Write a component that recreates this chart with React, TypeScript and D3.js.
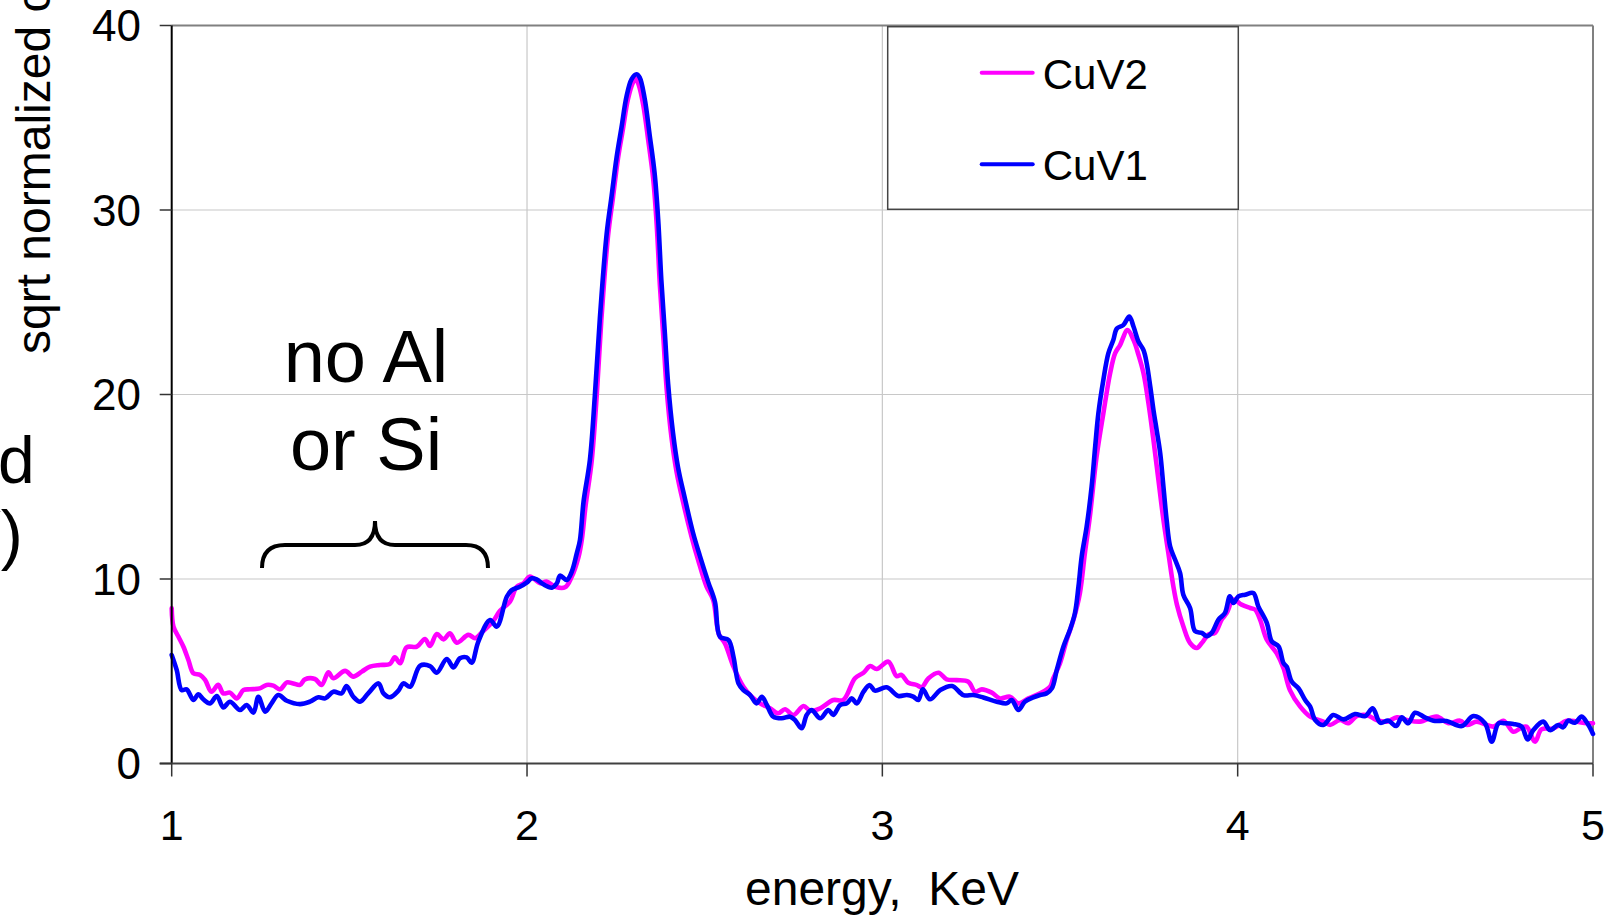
import React from 'react';
import * as d3 from 'd3';

// ---- data ----
const xTicks = [1, 2, 3, 4, 5];
const yTicks = [0, 10, 20, 30, 40];
const xGrid = [2, 3, 4];
const yGrid = [10, 20, 30];
const xTitle = 'energy,  KeV';
const yTitle = 'sqrt normalized counts';
const annotationLines = ['no Al', 'or Si'];

const cuv2Energy = [
  1.000, 1.005, 1.019, 1.033, 1.047, 1.061, 1.080, 1.094, 1.112, 1.131, 1.145, 1.164, 1.183, 1.202, 1.220, 1.248,
  1.267, 1.286, 1.305, 1.324, 1.342, 1.361, 1.375, 1.403, 1.422, 1.441, 1.455, 1.488, 1.511, 1.535, 1.558, 1.586,
  1.614, 1.628, 1.643, 1.661, 1.690, 1.713, 1.727, 1.746, 1.765, 1.783, 1.802, 1.835, 1.854, 1.872, 1.905, 1.924,
  1.952, 1.971, 1.990, 2.008, 2.037, 2.055, 2.079, 2.107, 2.126, 2.145, 2.154,
  2.165, 2.182, 2.196, 2.209, 2.228, 2.242, 2.256, 2.270, 2.284, 2.298, 2.306, 2.314, 2.327, 2.341, 2.355, 2.365,
  2.374, 2.384, 2.393, 2.407, 2.421, 2.440, 2.463, 2.482, 2.505, 2.524, 2.540, 2.557,
  2.581, 2.609, 2.632, 2.656, 2.684, 2.707, 2.726, 2.750, 2.778, 2.797, 2.825, 2.862, 2.890, 2.923, 2.947, 2.966,
  2.984, 3.017, 3.040, 3.054, 3.073, 3.097, 3.111, 3.130, 3.158, 3.181, 3.209, 3.242, 3.261, 3.280, 3.308, 3.331,
  3.359, 3.383, 3.411, 3.444, 3.472,
  3.481, 3.500, 3.519, 3.538, 3.556, 3.570, 3.584, 3.603, 3.622, 3.641, 3.655, 3.669, 3.690, 3.707, 3.721, 3.735,
  3.749, 3.763, 3.777, 3.791, 3.805, 3.819, 3.829, 3.847, 3.866, 3.885, 3.899, 3.918, 3.936, 3.955, 3.969, 3.988,
  4.011, 4.035, 4.049, 4.063, 4.082,
  4.110, 4.129, 4.147, 4.176, 4.204, 4.241, 4.260, 4.288, 4.311, 4.335, 4.363, 4.391, 4.420, 4.448, 4.476, 4.513,
  4.560, 4.593, 4.626, 4.645, 4.673, 4.701, 4.720, 4.748, 4.776, 4.795, 4.813, 4.837, 4.855, 4.888, 4.926, 4.954,
  4.982, 5.000,
];
const cuv2Value = [
  8.41, 7.42, 6.87, 6.33, 5.61, 4.89, 4.80, 4.53, 3.89, 4.26, 3.80, 3.84, 3.53, 3.98, 4.02, 4.07,
  4.26, 4.22, 4.02, 4.40, 4.34, 4.26, 4.56, 4.58, 4.26, 4.94, 4.62, 5.02, 4.71, 4.98, 5.25, 5.34,
  5.39, 5.75, 5.43, 6.30, 6.33, 6.75, 6.37, 7.02, 6.73, 7.06, 6.55, 6.97, 6.79, 7.09, 7.72, 8.28,
  8.77, 9.58, 9.77, 10.13, 9.77, 9.86, 9.58, 9.55, 10.13, 11.2, 12.11,
  14.0, 16.4, 19.9, 24.0, 28.6, 30.7, 32.8, 34.4, 36.0, 36.9, 37.1, 36.8, 35.7, 33.8, 31.7, 29.2,
  25.9, 23.0, 20.3, 17.6, 15.8, 14.1, 12.3, 11.0, 9.6, 8.86, 7.0, 6.51,
  5.25, 4.16, 3.62, 3.26, 2.99, 2.72, 2.94, 2.63, 3.12, 2.86, 2.99, 3.44, 3.44, 4.62, 4.92, 5.28,
  5.12, 5.52, 4.74, 4.80, 4.38, 4.25, 4.13, 4.62, 4.92, 4.56, 4.52, 4.43, 3.89, 4.02, 3.84, 3.53,
  3.62, 3.26, 3.53, 3.80, 4.16,
  4.61, 5.44, 6.71, 7.80, 9.24, 11.40, 13.39, 16.64, 18.98, 21.15, 22.23, 22.68, 23.49, 22.95, 22.14, 21.15,
  19.52, 17.54, 15.37, 13.21, 11.40, 9.60, 8.61, 7.44, 6.53, 6.26, 6.53, 6.99, 7.08, 7.80, 8.15, 8.88,
  8.61, 8.43, 8.34, 7.80, 6.71,
  5.97, 5.16, 3.98, 3.08, 2.54, 2.27, 2.09, 2.36, 2.18, 2.57, 2.63, 2.36, 2.27, 2.50, 2.36, 2.27,
  2.54, 2.18, 2.32, 2.09, 2.27, 2.09, 2.00, 2.32, 1.72, 1.90, 2.00, 1.18, 1.85, 1.90, 2.32, 2.27,
  2.18, 2.18,
];

const cuv1Energy = [
  1.000, 1.014, 1.028, 1.042, 1.061, 1.075, 1.089, 1.108, 1.127, 1.145, 1.164, 1.192, 1.211, 1.230, 1.244, 1.263,
  1.281, 1.300, 1.324, 1.361, 1.389, 1.413, 1.432, 1.455, 1.478, 1.492, 1.511, 1.530, 1.553, 1.582, 1.596, 1.614,
  1.638, 1.652, 1.671, 1.699, 1.727, 1.746, 1.774, 1.793, 1.811, 1.830, 1.844, 1.863, 1.896, 1.915,
  1.943, 1.957, 1.980, 1.999, 2.013, 2.027, 2.046, 2.070, 2.084, 2.093, 2.112, 2.126, 2.140, 2.149,
  2.159, 2.177, 2.191, 2.205, 2.224, 2.238, 2.252, 2.266, 2.280, 2.294, 2.308, 2.317, 2.331, 2.345, 2.359, 2.369,
  2.378, 2.388, 2.397, 2.411, 2.425, 2.444, 2.467, 2.486, 2.510, 2.529, 2.543, 2.567,
  2.581, 2.595, 2.609, 2.628, 2.646, 2.661, 2.675, 2.693, 2.717, 2.740, 2.754, 2.773, 2.787, 2.801, 2.825, 2.848,
  2.862, 2.881, 2.900, 2.914, 2.928, 2.947, 2.964, 2.979, 3.012, 3.045, 3.069, 3.087, 3.101, 3.114, 3.134, 3.163,
  3.196, 3.228, 3.256, 3.284, 3.322, 3.350, 3.364, 3.383, 3.401, 3.425, 3.444, 3.462, 3.477,
  3.491, 3.510, 3.528, 3.542, 3.552, 3.561, 3.575, 3.589, 3.599, 3.608, 3.622, 3.636, 3.650, 3.660, 3.678, 3.695,
  3.707, 3.721, 3.735, 3.744, 3.754, 3.763, 3.772, 3.782, 3.791, 3.800, 3.810, 3.824, 3.838, 3.847, 3.866, 3.880,
  3.899, 3.913, 3.927, 3.946, 3.964, 3.978, 3.988, 4.002, 4.021, 4.044, 4.058, 4.082, 4.096, 4.115, 4.129,
  4.138, 4.152, 4.171, 4.190, 4.204, 4.218, 4.241, 4.269, 4.298, 4.330, 4.359, 4.380, 4.401, 4.424, 4.446, 4.462,
  4.480, 4.499, 4.527, 4.551, 4.588, 4.631, 4.663, 4.696, 4.715, 4.734, 4.752, 4.776, 4.799, 4.816, 4.832, 4.860,
  4.879, 4.902, 4.916, 4.930, 4.949, 4.968, 4.987, 5.000,
];
const cuv1Value = [
  5.88, 5.07, 3.98, 4.02, 3.45, 3.75, 3.48, 3.26, 3.66, 3.04, 3.35, 2.90, 3.17, 2.76, 3.62, 2.81,
  3.26, 3.71, 3.40, 3.22, 3.35, 3.59, 3.53, 3.89, 3.80, 4.20, 3.62, 3.35, 3.80, 4.34, 3.80, 3.59,
  3.95, 4.34, 4.16, 5.30, 5.28, 4.92, 5.66, 5.21, 5.70, 5.75, 5.46, 6.61, 7.78, 7.42,
  9.04, 9.40, 9.58, 9.80, 10.04, 9.98, 9.71, 9.53, 9.77, 10.18, 9.95, 10.40, 11.39, 12.11,
  14.18, 16.46, 19.98, 24.13, 28.69, 30.76, 32.84, 34.49, 36.15, 37.08, 37.36, 37.19, 36.05, 34.08, 32.00, 29.52,
  26.20, 23.30, 20.60, 17.90, 16.05, 14.39, 12.52, 11.28, 9.83, 8.75, 6.87, 6.69,
  5.79, 4.35, 3.98, 3.71, 3.26, 3.62, 3.17, 2.54, 2.45, 2.54, 2.36, 1.91, 2.63, 2.90, 2.45, 2.90,
  2.63, 3.17, 3.26, 3.53, 3.26, 3.89, 4.25, 3.95, 4.13, 3.66, 3.71, 3.62, 3.44, 4.02, 3.48, 3.98,
  4.20, 3.71, 3.71, 3.58, 3.35, 3.26, 3.44, 2.90, 3.35, 3.58, 3.71, 3.80, 4.07,
  5.07, 6.35, 7.25, 8.15, 9.60, 11.22, 12.84, 15.01, 17.18, 18.98, 20.79, 22.23, 22.95, 23.58, 23.76, 24.22,
  23.67, 22.86, 22.41, 21.69, 20.43, 19.16, 18.07, 16.81, 15.01, 13.21, 11.76, 11.04, 10.32, 9.15, 8.43, 7.17,
  7.08, 6.90, 7.08, 7.80, 8.15, 9.06, 8.70, 9.06, 9.15, 9.24, 8.52, 7.62, 6.62, 6.35, 5.44,
  5.25, 4.44, 4.08, 3.44, 3.08, 2.36, 2.09, 2.63, 2.39, 2.68, 2.57, 2.99, 2.21, 2.32, 2.03, 2.50,
  2.18, 2.75, 2.50, 2.32, 2.30, 2.03, 2.57, 2.18, 1.18, 2.18, 2.18, 2.14, 2.00, 1.30, 1.81, 2.27,
  1.81, 2.09, 1.96, 2.32, 2.21, 2.54, 2.09, 1.60,
];

const seriesNames = ['CuV2', 'CuV1'];
const seriesColors = ['#ff00ff', '#0000ff'];

const FONT = '"Liberation Sans", Arial, Helvetica, sans-serif';

export default function App() {
  const W = 1612;
  const H = 916;
  const L = 171.7, R = 1593, T = 25.5, B = 763.5;
  const x = d3.scaleLinear().domain([1, 5]).range([L, R]);
  const y = d3.scaleLinear().domain([0, 40]).range([B, T]);
  const line = d3
    .line<[number, number]>()
    .x((d) => x(d[0]))
    .y((d) => y(d[1]))
    .curve(d3.curveCatmullRom.alpha(0.5));

  const series = [
    { name: seriesNames[0], color: seriesColors[0], pts: cuv2Energy.map((e, i) => [e, cuv2Value[i]] as [number, number]) },
    { name: seriesNames[1], color: seriesColors[1], pts: cuv1Energy.map((e, i) => [e, cuv1Value[i]] as [number, number]) },
  ];

  const legX = 887.7, legY = 26.7, legW = 350.6, legH = 182.6;

  return (
    <svg
      width={W}
      height={H}
      viewBox={`0 0 ${W} ${H}`}
      style={{ position: 'absolute', left: 0, top: 0, background: '#fff' }}
      fontFamily={FONT}
    >
      <rect x={0} y={0} width={W} height={H} fill="#fff" />
      {/* gridlines */}
      {xGrid.map((v) => (
        <line key={'xg' + v} x1={x(v)} x2={x(v)} y1={T} y2={B} stroke="#c8c8c8" strokeWidth={1.2} />
      ))}
      {yGrid.map((v) => (
        <line key={'yg' + v} x1={L} x2={R} y1={y(v)} y2={y(v)} stroke="#c8c8c8" strokeWidth={1.2} />
      ))}
      {/* plot frame top & right */}
      <line x1={L} x2={R} y1={T} y2={T} stroke="#808080" strokeWidth={2} />
      <line x1={R} x2={R} y1={T} y2={B} stroke="#808080" strokeWidth={2} />

      {/* series */}
      {series.map((s) => (
        <path key={s.name} d={line(s.pts) || ''} fill="none" stroke={s.color} strokeWidth={4.6} strokeLinejoin="round" strokeLinecap="round" />
      ))}

      {/* axes */}
      <line x1={L} x2={L} y1={T} y2={B} stroke="#000" strokeWidth={2} />
      <line x1={L - 12} x2={R} y1={B} y2={B} stroke="#404040" strokeWidth={2.2} />
      {yTicks.map((v) => (
        <g key={'yt' + v}>
          <line x1={L - 12} x2={L} y1={y(v)} y2={y(v)} stroke="#333" strokeWidth={1.5} />
          <text x={141} y={y(v) + 15.5} textAnchor="end" fontSize={44} fill="#000">
            {v}
          </text>
        </g>
      ))}
      {xTicks.map((v) => (
        <g key={'xt' + v}>
          <line x1={x(v)} x2={x(v)} y1={B} y2={B + 13} stroke="#333" strokeWidth={1.5} />
          <text x={x(v)} y={840} textAnchor="middle" fontSize={43} fill="#000">
            {v}
          </text>
        </g>
      ))}

      {/* axis titles */}
      <text x={882} y={905} textAnchor="middle" fontSize={48} fill="#000" style={{ whiteSpace: 'pre' }}>
        {xTitle}
      </text>
      <text transform="translate(50,354) rotate(-90)" textAnchor="start" fontSize={48} fill="#000">
        {yTitle}
      </text>

      {/* clipped outer text at left edge */}
      <text x={34.7} y={483} textAnchor="end" fontSize={66} fill="#000">
        d
      </text>
      <text x={22.7} y={557} textAnchor="end" fontSize={66} fill="#000">
        V)
      </text>

      {/* annotation */}
      {annotationLines.map((t, i) => (
        <text key={t} x={366} y={381.7 + i * 88.3} textAnchor="middle" fontSize={74} fill="#000">
          {t}
        </text>
      ))}
      <path
        d="M262,568 Q262,545 285,545 L355,545 Q375,545 375,521 Q375,545 395,545 L466,545 Q488,545 488,568"
        fill="none"
        stroke="#000"
        strokeWidth={4}
      />

      {/* legend */}
      <rect x={legX} y={legY} width={legW} height={legH} fill="#fff" stroke="#444" strokeWidth={1.5} />
      {series.map((s, i) => (
        <g key={'lg' + s.name}>
          <line x1={981.7} x2={1032.7} y1={72.7 + i * 91.6} y2={72.7 + i * 91.6} stroke={s.color} strokeWidth={4} strokeLinecap="round" />
          <text x={1042.7} y={89.3 + i * 91} fontSize={42} fill="#000">
            {s.name}
          </text>
        </g>
      ))}
    </svg>
  );
}
